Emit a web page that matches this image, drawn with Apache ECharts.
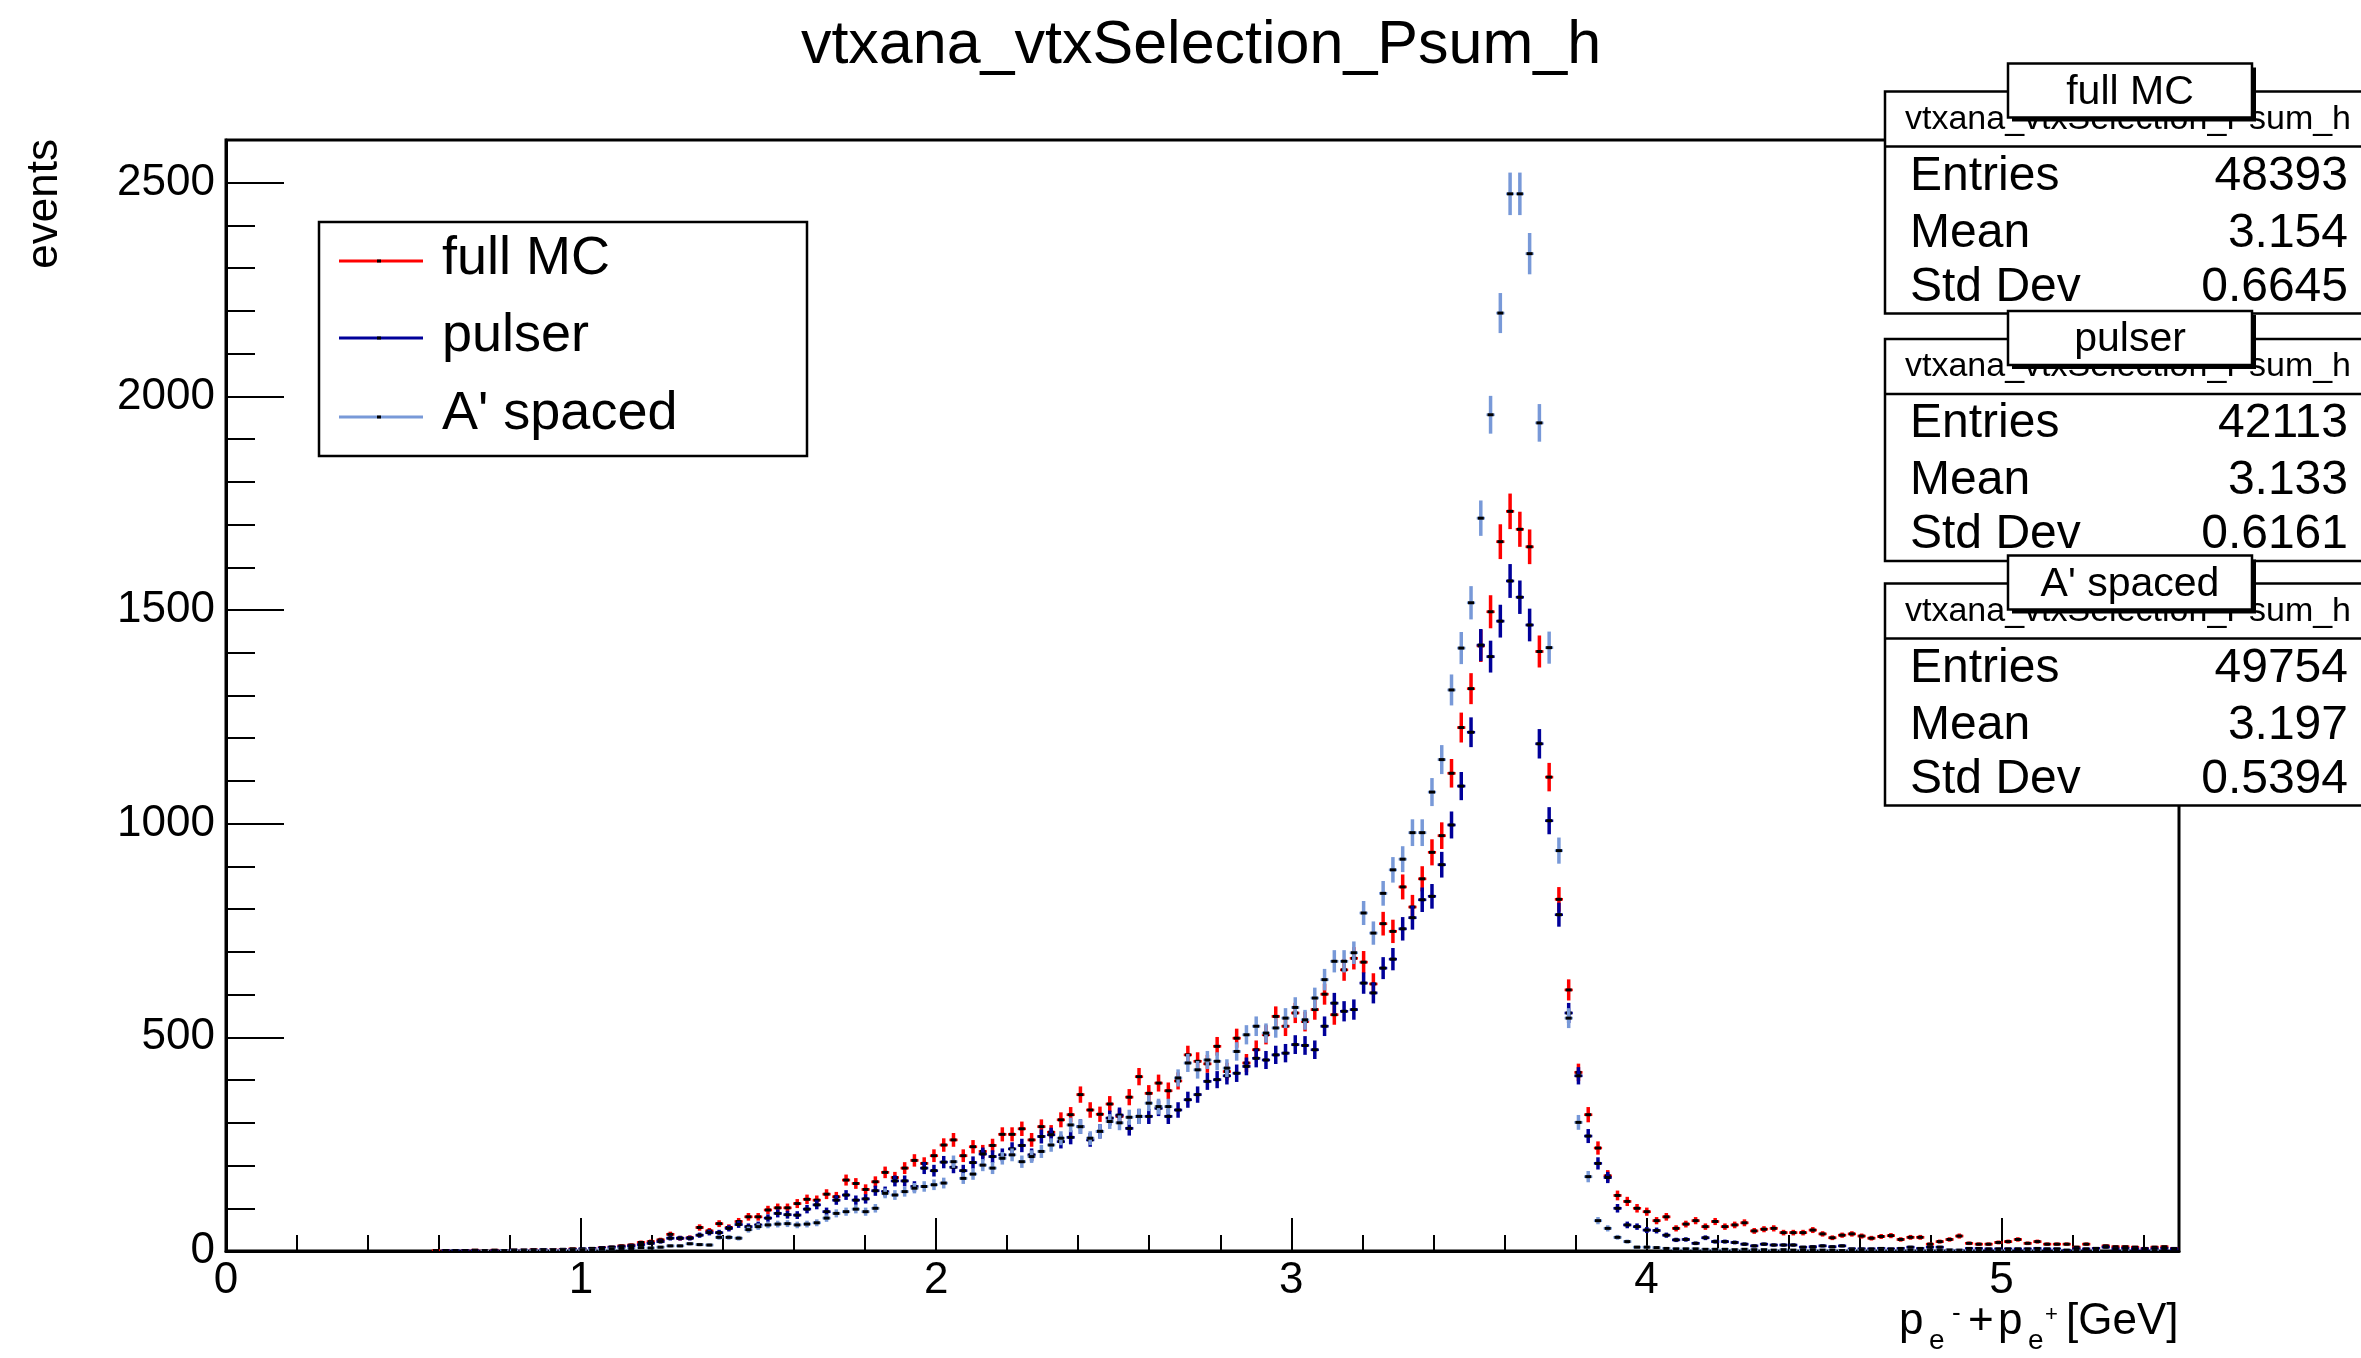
<!DOCTYPE html>
<html><head><meta charset="utf-8">
<script src="https://cdn.jsdelivr.net/npm/echarts@6/dist/echarts.min.js"></script>
<style>html,body{margin:0;padding:0;background:#fff}#c{width:2361px;height:1358px}</style>
</head><body><div id="c"></div>
<script>
// Histogram binning
const X_MIN = 0, X_MAX = 5.5, N_BINS = 200;
const Y_MAX = 2600;
const xMajorInterval = 1, xMinorInterval = 0.2;
const yMajorInterval = 500, yMinorInterval = 100;

const seriesNames = ["full MC", "pulser", "A' spaced"];
const seriesColors = ["#ff0000", "#00009a", "#7899d8"];

const fullMC = [
0,0,0,0,0,0,0,0,0,0,
0,0,0,0,0,0,0,0,0,0,
0,1,1,0,1,2,1,2,1,2,
2,3,2,3,4,5,4,6,8,9,
12,14,20,22,26,39,30,31,55,47,
64,55,69,80,80,96,101,101,111,121,
119,133,127,166,158,144,162,184,172,194,
212,205,223,248,260,223,244,233,247,273,
273,286,260,291,278,307,319,366,330,320,
344,315,360,408,369,393,375,398,459,444,
438,479,420,498,440,471,506,549,526,557,
537,565,601,553,658,685,676,625,766,748,
852,805,871,933,972,1118,1225,1316,1416,1496,
1660,1731,1689,1648,1403,1109,823,611,418,319,
241,176,130,116,100,92,71,80,53,63,
71,57,69,57,61,66,47,51,53,43,
43,43,49,40,31,37,40,35,30,34,
36,27,32,32,16,22,27,35,18,16,
16,20,22,27,18,22,16,16,16,9,
16,6,12,10,10,9,6,9,10,6];

const pulser = [
0,0,0,0,0,0,0,0,0,0,
0,0,0,0,0,0,0,0,0,0,
0,0,1,1,1,1,0,1,1,2,
2,2,3,2,3,4,5,6,7,9,
10,12,15,18,22,30,30,30,37,43,
43,53,62,57,61,77,88,85,84,98,
108,92,119,131,119,122,141,139,164,164,
151,194,188,208,196,188,207,227,221,225,
239,247,225,268,272,256,266,291,260,280,
311,318,287,315,315,334,315,330,354,366,
397,401,410,416,432,451,447,459,463,483,
481,471,526,580,561,565,627,604,662,683,
754,780,822,830,904,997,1088,1214,1418,1391,
1474,1568,1530,1465,1187,1007,787,557,410,269,
205,172,100,61,57,49,48,37,26,27,
18,31,22,22,20,16,12,16,14,14,
14,9,10,12,10,12,5,5,5,6,
5,6,9,6,9,9,2,2,6,6,
5,5,5,5,5,6,5,5,2,5,
5,6,9,5,6,5,5,5,6,5];

const aprimeSpaced = [
0,0,0,0,0,0,0,0,0,0,
0,0,0,0,0,0,0,0,0,0,
0,0,0,0,0,0,1,0,1,1,
1,1,1,2,2,2,3,3,4,5,
6,6,8,7,9,12,12,17,15,14,
32,32,30,50,57,61,63,64,61,63,
66,77,88,92,98,92,100,135,131,139,
147,151,155,159,209,170,180,201,194,217,
225,209,221,233,248,264,295,291,264,280,
303,300,313,315,346,338,338,405,440,424,
447,444,428,467,506,526,510,522,545,570,
541,592,635,678,678,698,791,744,837,892,
917,979,979,1074,1150,1313,1411,1517,1715,1957,
2195,2474,2474,2334,1938,1412,937,545,301,174,
71,53,32,22,9,9,8,6,5,5,
5,4,4,4,3,4,3,3,2,3,
2,2,3,2,2,1,2,2,1,2,
1,1,2,1,1,1,2,1,1,1,
0,1,1,0,1,1,0,1,0,1,
0,1,0,0,1,0,0,1,0,0];

const histName = "vtxana_vtxSelection_Psum_h";
const statLabels = ["Entries", "Mean", "Std Dev"];
const statEntries = ["48393", "42113", "49754"];
const statMeans = ["3.154", "3.133", "3.197"];
const statStdDevs = ["0.6645", "0.6161", "0.5394"];

const FONT = "'Liberation Sans', Arial, Helvetica, sans-serif";
const BW = (X_MAX - X_MIN) / N_BINS;

function makeSeries(name, values, color, z) {
  const data = values.map((v, i) => [X_MIN + (i + 0.5) * BW, v]);
  return {
    type: 'custom', name: name, z: z, data: data, encode: {x: 0, y: 1}, clip: true,
    renderItem: function (params, api) {
      const x = api.value(0), y = api.value(1);
      if (!(y > 0)) return null;
      const e = Math.sqrt(y);
      const c = api.coord([x, y]);
      const t = api.coord([x, y + e]);
      const b = api.coord([x, Math.max(0, y - e)]);
      const l = api.coord([x - 0.42 * BW, y]);
      const r = api.coord([x + 0.42 * BW, y]);
      return {type: 'group', children: [
        {type: 'line', shape: {x1: c[0], y1: t[1], x2: c[0], y2: b[1]}, style: {stroke: color, lineWidth: 3.5}},
        {type: 'line', shape: {x1: l[0], y1: c[1], x2: r[0], y2: c[1]}, style: {stroke: color, lineWidth: 2.6}},
        {type: 'rect', shape: {x: c[0] - 3, y: c[1] - 1.5, width: 6, height: 3}, style: {fill: '#000'}}
      ]};
    }
  };
}

const chart = echarts.init(document.getElementById('c'), null, {renderer: 'canvas', width: 2361, height: 1358});

const G = [];
// Title
G.push({type: 'text', x: 1201, y: 46, z: 100, style: {text: histName, font: '61px ' + FONT, fill: '#000', align: 'center', verticalAlign: 'middle'}});
// Y axis title
G.push({type: 'text', x: 45, y: 139, rotation: Math.PI / 2, z: 100, style: {text: 'events', font: '44px ' + FONT, fill: '#000', align: 'right', verticalAlign: 'middle'}});
// X axis title pieces
const xt = [
  ['p', 1899, 1322, 44], ['e', 1929, 1341, 28], ['-', 1952, 1314, 26],
  ['+', 1968, 1322, 44], ['p', 1998, 1322, 44], ['e', 2028, 1341, 28],
  ['+', 2045, 1315, 22], ['[GeV]', 2066, 1322, 44]
];
xt.forEach(p => G.push({type: 'text', x: p[1], y: p[2], z: 100, style: {text: p[0], font: p[3] + 'px ' + FONT, fill: '#000', align: 'left', verticalAlign: 'middle'}}));

// Legend
G.push({type: 'rect', z: 100, shape: {x: 319, y: 222, width: 488, height: 234}, style: {fill: '#fff', stroke: '#000', lineWidth: 2.5}});
const legY = [261, 338, 417];
const legTextY = [259, 336, 414];
seriesNames.forEach((n, k) => {
  G.push({type: 'line', z: 101, shape: {x1: 339, y1: legY[k], x2: 423, y2: legY[k]}, style: {stroke: seriesColors[k], lineWidth: 3}});
  G.push({type: 'rect', z: 102, shape: {x: 377, y: legY[k] - 1.5, width: 4, height: 3}, style: {fill: '#000'}});
  G.push({type: 'text', z: 102, x: 442, y: legTextY[k], style: {text: n, font: '54px ' + FONT, fill: '#000', align: 'left', verticalAlign: 'middle'}});
});

// Stat boxes
const boxTop = [91.5, 339, 583.5];
seriesNames.forEach((n, k) => {
  const T = boxTop[k];
  G.push({type: 'rect', z: 110, shape: {x: 1885, y: T, width: 490, height: 222}, style: {fill: '#fff', stroke: '#000', lineWidth: 2.5}});
  G.push({type: 'line', z: 111, shape: {x1: 1885, y1: T + 55, x2: 2370, y2: T + 55}, style: {stroke: '#000', lineWidth: 2.5}});
  G.push({type: 'text', z: 111, x: 2128, y: T + 28, style: {text: histName, font: '34px ' + FONT, fill: '#000', align: 'center', verticalAlign: 'middle'}});
  const rows = [statEntries[k], statMeans[k], statStdDevs[k]];
  const rowY = [T + 85, T + 142, T + 196];
  statLabels.forEach((lab, j) => {
    G.push({type: 'text', z: 111, x: 1910, y: rowY[j], style: {text: lab, font: '48px ' + FONT, fill: '#000', align: 'left', verticalAlign: 'middle'}});
    G.push({type: 'text', z: 111, x: 2348, y: rowY[j], style: {text: rows[j], font: '48px ' + FONT, fill: '#000', align: 'right', verticalAlign: 'middle'}});
  });
  // title box with shadow
  G.push({type: 'rect', z: 112, shape: {x: 2012, y: T - 24, width: 244, height: 54}, style: {fill: '#000'}});
  G.push({type: 'rect', z: 113, shape: {x: 2008, y: T - 28, width: 244, height: 54}, style: {fill: '#fff', stroke: '#000', lineWidth: 2.5}});
  G.push({type: 'text', z: 114, x: 2130, y: T + 1, style: {text: n, font: '41px ' + FONT, fill: '#000', align: 'center', verticalAlign: 'middle'}});
});

const axisFont = {fontSize: 44, color: '#000', fontFamily: FONT};
const plainNum = v => String(Math.round(v * 1000) / 1000);
const option = {
  animation: false,
  backgroundColor: '#fff',
  grid: {left: 226, right: 182, top: 140, bottom: 107, show: true, borderColor: '#000', borderWidth: 3, backgroundColor: 'transparent'},
  xAxis: [
    {type: 'value', min: X_MIN, max: X_MAX, interval: xMajorInterval, position: 'bottom',
     axisLine: {show: true, lineStyle: {color: '#000', width: 3}},
     axisTick: {show: true, inside: true, length: 33, lineStyle: {color: '#000', width: 2}},
     axisLabel: Object.assign({margin: 8, showMaxLabel: false, formatter: plainNum}, axisFont),
     splitLine: {show: false}},
    {type: 'value', min: X_MIN, max: X_MAX, interval: xMinorInterval, position: 'bottom',
     axisLine: {show: false}, axisLabel: {show: false}, splitLine: {show: false},
     axisTick: {show: true, inside: true, length: 16, lineStyle: {color: '#000', width: 2}}}
  ],
  yAxis: [
    {type: 'value', min: 0, max: Y_MAX, interval: yMajorInterval, position: 'left',
     axisLine: {show: true, lineStyle: {color: '#000', width: 3}},
     axisTick: {show: true, inside: true, length: 58, lineStyle: {color: '#000', width: 2}},
     axisLabel: Object.assign({margin: 11, showMaxLabel: false, formatter: plainNum}, axisFont),
     splitLine: {show: false}},
    {type: 'value', min: 0, max: Y_MAX, interval: yMinorInterval, position: 'left', offset: 0,
     axisLine: {show: false}, axisLabel: {show: false}, splitLine: {show: false},
     axisTick: {show: true, inside: true, length: 29, lineStyle: {color: '#000', width: 2}}}
  ],
  series: [
    makeSeries(seriesNames[0], fullMC, seriesColors[0], 2),
    makeSeries(seriesNames[1], pulser, seriesColors[1], 3),
    makeSeries(seriesNames[2], aprimeSpaced, seriesColors[2], 4)
  ],
  graphic: {elements: G}
};
chart.setOption(option);
</script>
</body></html>
